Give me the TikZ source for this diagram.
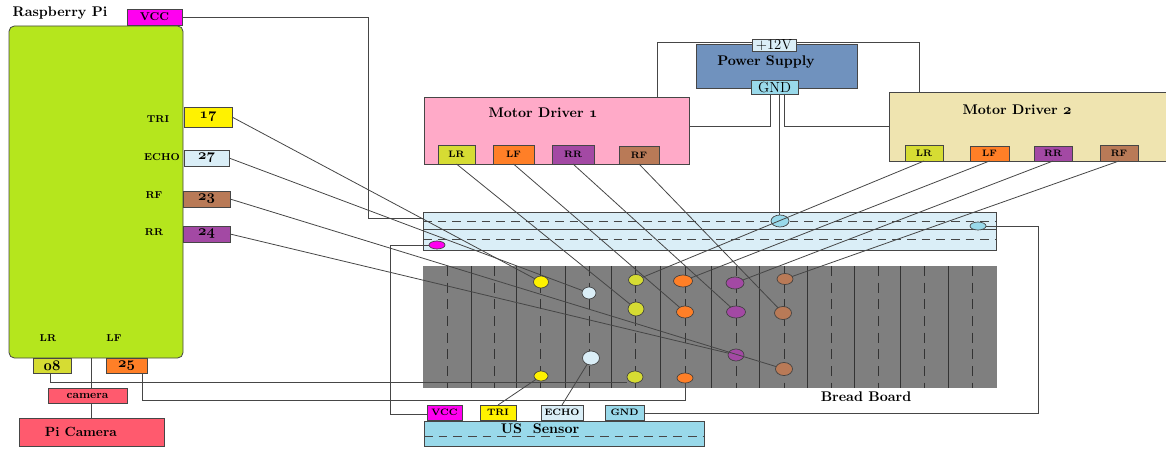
\documentclass[tikz,border=0pt]{standalone}
\usepackage{tikz}
\usetikzlibrary{shapes.geometric}
\definecolor{PiVert}{RGB}{181, 230,  29}
\definecolor{PinMagenta}{RGB}{255,   0, 240}
\definecolor{PinJaune}{RGB}{255, 242,   0}
\definecolor{PinCiel}{RGB}{218, 238, 247}
\definecolor{PinBrun}{RGB}{185, 122,  87}
\definecolor{PinViolet}{RGB}{163,  73, 164}
\definecolor{PinOlive}{RGB}{214, 220,  51}
\definecolor{PinOrange}{RGB}{255, 127,  39}
\definecolor{CamRouge}{RGB}{255,  90, 110}
\definecolor{SupplyBleu}{RGB}{112, 146, 190}
\definecolor{SensorBleu}{RGB}{153, 217, 234}
\definecolor{DriverRose}{RGB}{255, 170, 200}
\definecolor{DriverSable}{RGB}{239, 228, 176}
\definecolor{BoardGris}{RGB}{127, 127, 127}
\definecolor{WireGris}{RGB}{ 70,  70,  70}
\newcommand{\pinnum}[1]{{\usefont{OML}{cmm}{b}{it}#1}}
\tikzset{
	boxsize/.style 2 args={minimum width=#1*0.75pt, minimum height=#2*0.75pt},
	box/.style={draw=WireGris, line width=0.6pt, inner sep=0pt, outer sep=0pt, text centered, text=black},
	pin/.style={box, font=\bfseries\fontsize{7}{8}\selectfont},
	bigpin/.style={box, font=\bfseries\fontsize{8.5}{9}\selectfont},
	numpin/.style={box, font=\bfseries\fontsize{11}{12}\selectfont},
	plainpin/.style={box, font=\fontsize{11}{12}\selectfont},
	tag/.style={inner sep=0pt, outer sep=0pt, text=black, font=\bfseries\fontsize{7.5}{8}\selectfont},
	heading/.style={inner sep=0pt, outer sep=0pt, text=black, font=\bfseries\fontsize{10.5}{12}\selectfont},
	wire/.style={draw=WireGris, line width=0.6pt},
	railline/.style={draw=WireGris, line width=0.6pt, dash pattern=on 6.5pt off 4.5pt},
	boardline/.style={draw=black!80, line width=0.7pt},
	boarddash/.style={draw=black!80, line width=0.7pt, dash pattern=on 7.5pt off 5pt},
	dot/.style={ellipse, draw=black!75, line width=0.5pt, inner sep=0pt, outer sep=0pt}
}
\begin{document}
\begin{tikzpicture}[x=0.75pt, y=-0.75pt]
	\useasboundingbox (0,0) rectangle (1166,449);

	\draw (96,192) node (piBoard) [box, boxsize={174}{332}, fill=PiVert, rounded corners=4pt] {};
	\draw (154.5,17) node (pinVcc) [bigpin, boxsize={55}{16}, fill=PinMagenta] {VCC};
	\draw (208,117) node (pinTri) [numpin, boxsize={48}{20}, fill=PinJaune] {\pinnum{17}};
	\draw (206.5,158) node (pinEcho) [numpin, boxsize={45}{16}, fill=PinCiel] {\pinnum{27}};
	\draw (206.5,199) node (pinRf) [numpin, boxsize={47}{16}, fill=PinBrun] {\pinnum{23}};
	\draw (206.5,234) node (pinRr) [numpin, boxsize={47}{16}, fill=PinViolet] {\pinnum{24}};
	\draw (52,366) node (pinLr) [numpin, boxsize={38}{15}, fill=PinOlive] {\pinnum{08}};
	\draw (126.5,366) node (pinLf) [numpin, boxsize={41}{15}, fill=PinOrange] {\pinnum{25}};
	\draw (60,13) node (piTitle) [heading] {Raspberry Pi};
	\draw (158,119) node (tagTri) [tag] {TRI};
	\draw (162,157) node (tagEcho) [tag] {ECHO};
	\draw (154,195) node (tagRf) [tag] {RF};
	\draw (154,232) node (tagRr) [tag] {RR};
	\draw (48,338) node (tagLr) [tag] {LR};
	\draw (114,338) node (tagLf) [tag] {LF};

	\draw (87.5,395.5) node (camera) [bigpin, boxsize={79}{15}, fill=CamRouge] {camera};
	\draw (91.5,432) node (piCamera) [box, boxsize={145}{28}, fill=CamRouge, font=\bfseries\fontsize{10}{12}\selectfont] {\hspace{-1.6em}Pi Camera};

	\draw (776.5,66) node (supply) [box, boxsize={161}{44}, fill=SupplyBleu] {};
	\draw (766,62) node (supplyTitle) [heading] {Power Supply};
	\draw (774,45) node (supplyPlus) [plainpin, boxsize={44}{12}, fill=PinCiel] {+12V};
	\draw (774.5,87) node (supplyGnd) [plainpin, boxsize={47}{14}, fill=SensorBleu] {GND};

	\draw (556.5,130.5) node (driverOne) [box, boxsize={265}{67}, fill=DriverRose] {};
	\draw (543,113) node (driverOneTitle) [heading] {Motor Driver \pinnum{1}};
	\draw (456.5,154.5) node (oneLr) [pin, boxsize={37}{19}, fill=PinOlive] {LR};
	\draw (513.5,154.5) node (oneLf) [pin, boxsize={41}{19}, fill=PinOrange] {LF};
	\draw (573,154.5) node (oneRr) [pin, boxsize={42}{19}, fill=PinViolet] {RR};
	\draw (639,155) node (oneRf) [pin, boxsize={40}{18}, fill=PinBrun] {RF};

	\draw (1028,126.5) node (driverTwo) [box, boxsize={278}{69}, fill=DriverSable] {};
	\draw (1017,110) node (driverTwoTitle) [heading] {Motor Driver \pinnum{2}};
	\draw (924,153) node (twoLr) [pin, boxsize={38}{16}, fill=PinOlive] {LR};
	\draw (989.5,153.5) node (twoLf) [pin, boxsize={39}{15}, fill=PinOrange] {LF};
	\draw (1053,153.5) node (twoRr) [pin, boxsize={38}{15}, fill=PinViolet] {RR};
	\draw (1119,153) node (twoRf) [pin, boxsize={38}{16}, fill=PinBrun] {RF};

	\draw (709.5,231) node (powerRail) [box, boxsize={573}{38}, fill=PinCiel] {};
	\draw[wire] (powerRail.west |- 0,229) -- (powerRail.east |- 0,229);
	\draw[railline] (powerRail.west |- 0,221) -- (powerRail.east |- 0,221);
	\draw[railline] (powerRail.west |- 0,239) -- (powerRail.east |- 0,239);

	\draw (710,327) node (breadBoard) [boxsize={574}{122}, inner sep=0pt, outer sep=0pt, fill=BoardGris] {};
	\draw[boardline] (471,266)--(471,388) (516,266)--(516,388) (565,266)--(565,388) (611,266)--(611,388) (660,266)--(660,388) (711,266)--(711,388);
	\draw[boardline] (759,266)--(759,388) (807,266)--(807,388) (854,266)--(854,388) (900,266)--(900,388) (948,266)--(948,388);
	\draw[boarddash] (447,266)--(447,388) (494,266)--(494,388) (540,266)--(540,388) (589,266)--(589,388) (635,266)--(635,388) (685,266)--(685,388);
	\draw[boarddash] (736,266)--(736,388) (784,266)--(784,388) (831,266)--(831,388) (878,266)--(878,388) (924,266)--(924,388) (972,266)--(972,388);
	\draw (866,397) node (boardTitle) [heading] {Bread Board};

	\draw (564,433.5) node (usSensor) [box, boxsize={280}{25}, fill=SensorBleu] {};
	\draw[railline] (usSensor.west |- 0,436) -- (usSensor.east |- 0,436);
	\draw (540,429) node (usTitle) [heading] {US\ \ Sensor};
	\draw (444.5,412.5) node (usVcc) [pin, boxsize={35}{15}, fill=PinMagenta] {VCC};
	\draw (498,412.5) node (usTri) [pin, boxsize={36}{15}, fill=PinJaune] {TRI};
	\draw (562,412.5) node (usEcho) [pin, boxsize={42}{15}, fill=PinCiel] {ECHO};
	\draw (624.5,412.5) node (usGnd) [pin, boxsize={39}{15}, fill=SensorBleu] {GND};

	\draw (437,245) node (railVcc) [dot, boxsize={16}{8}, fill=PinMagenta] {};
	\draw (780,221) node (railGndA) [dot, boxsize={18}{12}, fill=SensorBleu] {};
	\draw (978,226) node (railGndB) [dot, boxsize={16}{8}, fill=SensorBleu] {};

	\draw (541,282) node (triTop) [dot, boxsize={15}{12}, fill=PinJaune] {};
	\draw (589,293) node (echoTop) [dot, boxsize={14}{12}, fill=PinCiel] {};
	\draw (636,280) node (lrTop) [dot, boxsize={15}{11}, fill=PinOlive] {};
	\draw (683,281) node (lfTop) [dot, boxsize={19}{12}, fill=PinOrange] {};
	\draw (735,283) node (rrTop) [dot, boxsize={18}{12}, fill=PinViolet] {};
	\draw (785,279) node (rfTop) [dot, boxsize={16}{11}, fill=PinBrun] {};
	\draw (636,309) node (lrMid) [dot, boxsize={16}{14}, fill=PinOlive] {};
	\draw (685,312) node (lfMid) [dot, boxsize={17}{12}, fill=PinOrange] {};
	\draw (736,312) node (rrMid) [dot, boxsize={19}{12}, fill=PinViolet] {};
	\draw (783,313) node (rfMid) [dot, boxsize={17}{13}, fill=PinBrun] {};
	\draw (591,358) node (echoLow) [dot, boxsize={17}{14}, fill=PinCiel] {};
	\draw (736,355) node (rrLow) [dot, boxsize={16}{12}, fill=PinViolet] {};
	\draw (784,369) node (rfLow) [dot, boxsize={17}{13}, fill=PinBrun] {};
	\draw (541,376) node (triLow) [dot, boxsize={14}{10}, fill=PinJaune] {};
	\draw (635,377) node (lrLow) [dot, boxsize={16}{12}, fill=PinOlive] {};
	\draw (685,378) node (lfLow) [dot, boxsize={16}{10}, fill=PinOrange] {};

	\coordinate (vccTurn) at (368,218);
	\coordinate (railTurn) at (390,414);
	\coordinate (gndTurn) at (1038,413);
	\coordinate (camLine) at (91,380);
	\coordinate (lrTurn) at (50,382);
	\coordinate (lfTurn) at (142,400);
	\coordinate (plusLeft) at (657,42);
	\coordinate (plusRight) at (919,42);
	\coordinate (gndLeft) at (770,126);
	\coordinate (gndRight) at (784,126);
	\coordinate (gndRail) at (779,150);

	\draw[wire] (pinVcc.east) -| (vccTurn) -- (powerRail.west |- vccTurn);
	\draw[wire] (railVcc.west) -| (railTurn) -- (usVcc.west |- railTurn);
	\draw[wire] (railGndB.east) -| (gndTurn) -- (usGnd.east |- gndTurn);
	\draw[wire] (piBoard.south -| camLine) -- (camera.north -| camLine);
	\draw[wire] (camera.south -| camLine) -- (piCamera.north -| camLine);
	\draw[wire] (pinLr.south -| lrTurn) -- (lrTurn) -- (lrLow.west |- lrTurn);
	\draw[wire] (pinLf.south -| lfTurn) -- (lfTurn) -| (lfLow.south);
	\draw[wire] (supplyPlus.west |- plusLeft) -- (plusLeft) -- (driverOne.north -| plusLeft);
	\draw[wire] (supplyPlus.east |- plusRight) -- (plusRight) -- (driverTwo.north -| plusRight);
	\draw[wire] (supplyGnd.south -| gndLeft) -- (gndLeft) -- (driverOne.east |- gndLeft);
	\draw[wire] (supplyGnd.south -| gndRight) -- (gndRight) -- (driverTwo.west |- gndRight);
	\draw[wire] (supplyGnd.south -| gndRail) -- (railGndA.north -| gndRail);

	\draw[wire] (pinTri.east) -- (triTop);
	\draw[wire] (pinEcho.east) -- (echoTop);
	\draw[wire] (pinRf.east) -- (rfLow);
	\draw[wire] (pinRr.east) -- (rrLow);
	\draw[wire] (oneLr.south) -- (lrMid);
	\draw[wire] (oneLf.south) -- (lfMid);
	\draw[wire] (oneRr.south) -- (rrMid);
	\draw[wire] (oneRf.south) -- (rfMid);
	\draw[wire] (twoLr.south) -- (lrTop);
	\draw[wire] (twoLf.south) -- (lfTop);
	\draw[wire] (twoRr.south) -- (rrTop);
	\draw[wire] (twoRf.south) -- (rfTop);
	\draw[wire] (usTri.north) -- (triLow);
	\draw[wire] (usEcho.north) -- (echoLow);
\end{tikzpicture}
\end{document}
